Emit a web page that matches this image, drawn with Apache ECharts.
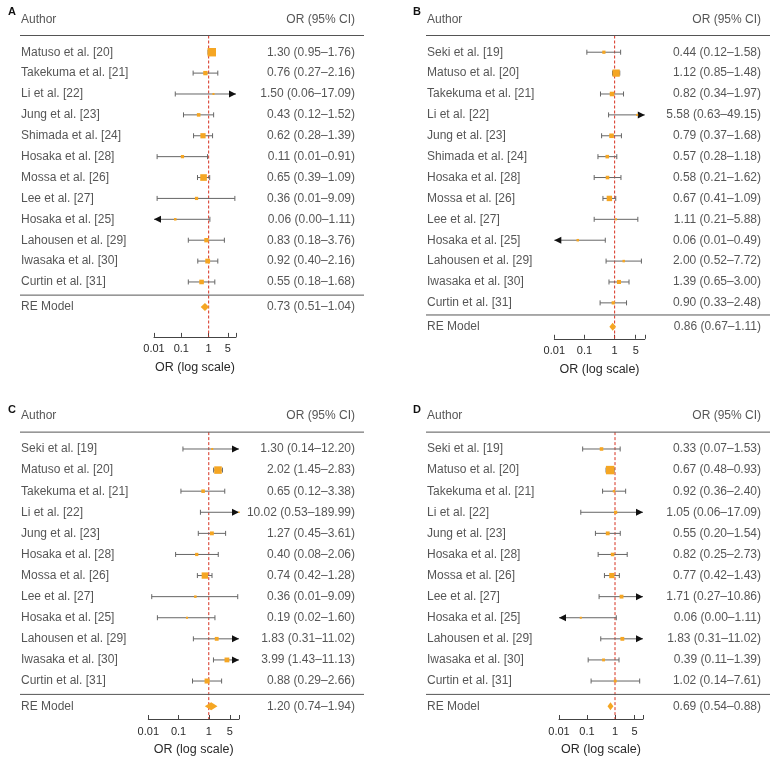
<!DOCTYPE html>
<html><head><meta charset="utf-8">
<script src="https://cdn.jsdelivr.net/npm/echarts@6/dist/echarts.min.js"></script>
<style>html,body{margin:0;padding:0;background:#fff}#c{width:771px;height:757px}</style>
</head><body><div id="c"></div>
<script>
// ---------- DATA ----------
const authorsA = ['Matuso et al. [20]','Takekuma et al. [21]','Li et al. [22]','Jung et al. [23]','Shimada et al. [24]','Hosaka et al. [28]','Mossa et al. [26]','Lee et al. [27]','Hosaka et al. [25]','Lahousen et al. [29]','Iwasaka et al. [30]','Curtin et al. [31]'];
const orA = [1.30,0.76,1.50,0.43,0.62,0.11,0.65,0.36,0.06,0.83,0.92,0.55];
const loA = [0.95,0.27,0.06,0.12,0.28,0.013,0.39,0.013,0.004,0.18,0.40,0.18];
const hiA = [1.76,2.16,17.09,1.52,1.39,0.91,1.09,9.09,1.11,3.76,2.16,1.68];
const wA  = [34,9,2,6,13,5,21,5,3,9,11,10];
const reA = [0.73,0.51,1.04];

const authorsB = ['Seki et al. [19]','Matuso et al. [20]','Takekuma et al. [21]','Li et al. [22]','Jung et al. [23]','Shimada et al. [24]','Hosaka et al. [28]','Mossa et al. [26]','Lee et al. [27]','Hosaka et al. [25]','Lahousen et al. [29]','Iwasaka et al. [30]','Curtin et al. [31]'];
const orB = [0.44,1.12,0.82,5.58,0.79,0.57,0.58,0.67,1.11,0.06,2.00,1.39,0.90];
const loB = [0.12,0.85,0.34,0.63,0.37,0.28,0.21,0.41,0.21,0.008,0.52,0.65,0.33];
const hiB = [1.58,1.48,1.97,49.15,1.68,1.18,1.62,1.09,5.88,0.49,7.72,3.00,2.48];
const wB  = [5,25,10,2,10,6,6,14,2,3,3,8,5];
const reB = [0.86,0.67,1.11];

const authorsC = ['Seki et al. [19]','Matuso et al. [20]','Takekuma et al. [21]','Li et al. [22]','Jung et al. [23]','Hosaka et al. [28]','Mossa et al. [26]','Lee et al. [27]','Hosaka et al. [25]','Lahousen et al. [29]','Iwasaka et al. [30]','Curtin et al. [31]'];
const orC = [1.30,2.02,0.65,10.02,1.27,0.40,0.74,0.36,0.19,1.83,3.99,0.88];
const loC = [0.14,1.45,0.12,0.53,0.45,0.08,0.42,0.013,0.02,0.31,1.43,0.29];
const hiC = [12.20,2.83,3.38,189.99,3.61,2.06,1.28,9.09,1.60,11.02,11.13,2.66];
const wC  = [2,27,6,1,7,5,19,3,2,7,11,12];
const reC = [1.20,0.74,1.94];

const authorsD = ['Seki et al. [19]','Matuso et al. [20]','Takekuma et al. [21]','Li et al. [22]','Jung et al. [23]','Hosaka et al. [28]','Mossa et al. [26]','Lee et al. [27]','Hosaka et al. [25]','Lahousen et al. [29]','Iwasaka et al. [30]','Curtin et al. [31]'];
const orD = [0.33,0.67,0.92,1.05,0.55,0.82,0.77,1.71,0.06,1.83,0.39,1.02];
const loD = [0.07,0.48,0.36,0.06,0.20,0.25,0.42,0.27,0.004,0.31,0.11,0.14];
const hiD = [1.53,0.93,2.40,17.09,1.54,2.73,1.43,10.86,1.11,11.02,1.39,7.61];
const wD  = [6,34,3,5,7,6,13,7,2,7,4,4];
const reD = [0.69,0.54,0.88];

const tickValues = [0.01,0.1,1,5,10];
const tickLabels = ['0.01','0.1','1','5',''];
const panelTags = ['A','B','C','D'];

// ---------- LAYOUT / STYLE ----------
const XMIN = 0.01, XMAX = 10;
const ROW_H = 21.1;
const HDR_TEXT_ROW = -1.58, HDR_ROW = -0.8, TOP_ROW = -2.5;
const layouts = [
  {lx:3,   ly:1,   textL:20,  textR:364, valR:355, fL:154,   fW:82,   row0:49.3, sepRow:11.63, reRow:12.2,  axisRow:13.63},
  {lx:408, ly:1,   textL:426, textR:770, valR:761, fL:554.3, fW:90.5, row0:49.3, sepRow:12.58, reRow:13.14, axisRow:13.72},
  {lx:3,   ly:399, textL:20,  textR:364, valR:355, fL:148.3, fW:90.7, row0:449,  sepRow:11.63, reRow:12.2,  axisRow:12.8},
  {lx:408, ly:399, textL:426, textR:770, valR:761, fL:559,   fW:84,   row0:449,  sepRow:11.63, reRow:12.2,  axisRow:12.8}
];
const panels = [
  {authors:authorsA, or:orA, lo:loA, hi:hiA, w:wA, re:reA},
  {authors:authorsB, or:orB, lo:loB, hi:hiB, w:wB, re:reB},
  {authors:authorsC, or:orC, lo:loC, hi:hiC, w:wC, re:reC},
  {authors:authorsD, or:orD, lo:loD, hi:hiD, w:wD, re:reD}
];
const FONT = 'Liberation Sans, Arial, sans-serif';
const TXT = '#2a2a2a';
const ORANGE = '#F5A623';
const CI_COL = '#666';
const fmt = v => v.toFixed(2);
const ciText = (o,l,h) => fmt(o) + ' (' + fmt(l) + '\u2013' + fmt(h) + ')';
const labelFor = v => {
  let best = 0, bd = Infinity;
  tickValues.forEach((t,i) => { const d = Math.abs(Math.log10(t) - Math.log10(v)); if (d < bd) { bd = d; best = i; } });
  return tickLabels[best];
};

function renderCI(params, api) {
  const row = api.value(0), lo = api.value(2), hi = api.value(3);
  const a = api.coord([Math.max(lo, XMIN), row]);
  const b = api.coord([Math.min(hi, XMAX), row]);
  const ls = {stroke: CI_COL, lineWidth: 1};
  const ch = [{type:'line', shape:{x1:a[0], y1:a[1], x2:b[0], y2:b[1]}, style: ls}];
  if (lo < XMIN) ch.push({type:'polygon', shape:{points:[[a[0],a[1]],[a[0]+7,a[1]-3.5],[a[0]+7,a[1]+3.5]]}, style:{fill:'#111'}});
  else ch.push({type:'line', shape:{x1:a[0], y1:a[1]-2.5, x2:a[0], y2:a[1]+2.5}, style: ls});
  if (hi > XMAX) ch.push({type:'polygon', shape:{points:[[b[0],b[1]],[b[0]-7,b[1]-3.5],[b[0]-7,b[1]+3.5]]}, style:{fill:'#111'}});
  else ch.push({type:'line', shape:{x1:b[0], y1:b[1]-2.5, x2:b[0], y2:b[1]+2.5}, style: ls});
  return {type:'group', children: ch};
}
function renderDiamond(params, api) {
  const row = api.value(0);
  const c = api.coord([api.value(1), row]);
  const l = api.coord([api.value(2), row]);
  const r = api.coord([api.value(3), row]);
  return {type:'polygon', shape:{points:[[l[0],l[1]],[c[0],c[1]-4],[r[0],r[1]],[c[0],c[1]+4]]}, style:{fill: ORANGE}};
}

const grid = [], xAxis = [], yAxis = [], series = [], title = [];
panels.forEach((p, k) => {
  const L = layouts[k];
  const top = L.row0 + TOP_ROW * ROW_H;
  const height = (L.axisRow - TOP_ROW) * ROW_H;
  const fi = 2*k, ti = 2*k + 1;
  grid.push({left: L.fL, top: top, width: L.fW, height: height, containLabel: false});
  grid.push({left: L.textL, top: top, width: L.textR - L.textL, height: height, containLabel: false});
  xAxis.push({
    type:'log', logBase:10, gridIndex: fi, min: XMIN, max: XMAX,
    axisLine:{show:true, onZero:false, lineStyle:{color:'#444', width:1}},
    axisTick:{show:true, inside:true, length:4, customValues: tickValues, lineStyle:{color:'#444'}},
    axisLabel:{show:true, customValues: tickValues.slice(0,4), formatter: v => labelFor(v), color: TXT, fontSize: 11, fontFamily: FONT, margin: 7, showMinLabel:true, showMaxLabel:true},
    splitLine:{show:false}, minorTick:{show:false},
    name:'OR (log scale)', nameLocation:'middle', nameGap: 24,
    nameTextStyle:{color: TXT, fontSize: 12.5, fontFamily: FONT}
  });
  xAxis.push({type:'value', gridIndex: ti, min:0, max:1, show:false});
  [fi, ti].forEach(gi => yAxis.push({type:'value', gridIndex: gi, min: TOP_ROW, max: L.axisRow, inverse: true, show:false}));

  title.push({text: panelTags[k], left: L.lx, top: L.ly, textStyle:{fontSize: 11, fontWeight:'bold', color:'#111', fontFamily: FONT}});

  const n = p.authors.length;
  const rows = p.authors.map((_, i) => i);
  // reference line at OR = 1
  series.push({type:'line', xAxisIndex: fi, yAxisIndex: fi, data: [[1, HDR_ROW], [1, L.axisRow]], symbol:'none', silent:true,
    lineStyle:{color:'#d7301f', width:1, type:[3,2]}, z: 1});
  // CIs
  series.push({type:'custom', xAxisIndex: fi, yAxisIndex: fi, renderItem: renderCI, encode:{x:[1,2,3], y:0},
    data: rows.map(i => [i, p.or[i], p.lo[i], p.hi[i]]), z: 2, silent:true});
  // study squares
  series.push({type:'scatter', xAxisIndex: fi, yAxisIndex: fi, symbol:'rect', clip:true,
    symbolSize: v => 1.45 * Math.sqrt(v[2]), itemStyle:{color: ORANGE, opacity:1},
    data: rows.map(i => [p.or[i], i, p.w[i]]), z: 3, silent:true});
  // summary diamond
  series.push({type:'custom', xAxisIndex: fi, yAxisIndex: fi, renderItem: renderDiamond, encode:{x:[1,2,3], y:0},
    data: [[L.reRow, p.re[0], p.re[1], p.re[2]]], z: 3, silent:true});

  const lblBase = {show:true, color: TXT, fontSize: 12, fontFamily: FONT};
  // author names + RE Model
  series.push({type:'scatter', xAxisIndex: ti, yAxisIndex: ti, symbolSize: 0, silent:true,
    data: rows.map(i => [0, i]).concat([[0, L.reRow], [0, HDR_TEXT_ROW]]),
    label: Object.assign({}, lblBase, {position:'right', distance: 1,
      formatter: q => q.dataIndex < n ? p.authors[q.dataIndex] : (q.dataIndex === n ? 'RE Model' : 'Author')})});
  // OR (95% CI) values
  series.push({type:'scatter', xAxisIndex: ti, yAxisIndex: ti, symbolSize: 0, silent:true,
    data: rows.map(i => [1, i]).concat([[1, L.reRow], [1, HDR_TEXT_ROW]]),
    label: Object.assign({}, lblBase, {position:'left', distance: 0, offset:[-(L.textR - L.valR), 0],
      formatter: q => q.dataIndex < n ? ciText(p.or[q.dataIndex], p.lo[q.dataIndex], p.hi[q.dataIndex])
        : (q.dataIndex === n ? ciText(p.re[0], p.re[1], p.re[2]) : 'OR (95% CI)')})});
  // rules
  [HDR_ROW, L.sepRow].forEach(r => series.push({type:'line', xAxisIndex: ti, yAxisIndex: ti, data: [[0, r], [1, r]],
    symbol:'none', silent:true, lineStyle:{color:'#555', width:1}}));
});

const chart = echarts.init(document.getElementById('c'), null, {renderer:'canvas'});
chart.setOption({animation:false, backgroundColor:'#fff', title, grid, xAxis, yAxis, series});
</script>
</body></html>
